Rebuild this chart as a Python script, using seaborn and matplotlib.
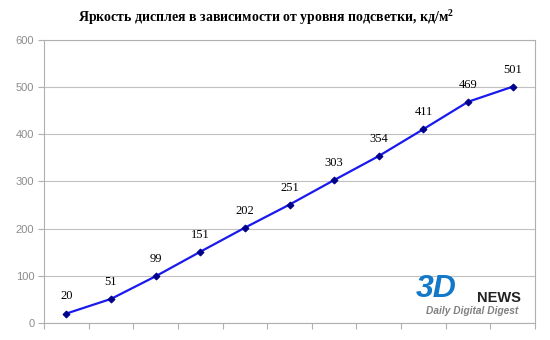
import matplotlib
matplotlib.use("Agg")
import matplotlib.pyplot as plt
import seaborn as sns
import pandas as pd
import numpy as np

levels = list(range(1, 12))
brightness = [20, 51, 99, 151, 202, 251, 303, 354, 411, 469, 501]
yticks = [0, 100, 200, 300, 400, 500, 600]
title = "Яркость дисплея в зависимости от уровня подсветки, кд/м$^{\\mathregular{2}}$"

sns.set_theme(style="white")
plt.rcParams['font.family'] = ['Liberation Serif', 'DejaVu Serif']
plt.rcParams['mathtext.fontset'] = 'custom'
plt.rcParams['mathtext.rm'] = 'Liberation Serif'

df = pd.DataFrame({"pos": np.arange(len(levels)), "val": brightness})

fig = plt.figure(figsize=(5.5, 3.4), dpi=100)
ax = fig.add_axes([44/550, 17/340, (535-44)/550, (323-40)/340])

sns.lineplot(data=df, x="pos", y="val", ax=ax, color="#1a1aee", linewidth=1.6,
             marker="D", markersize=3.5, markerfacecolor="#00008b", markeredgecolor="#00008b")

ax.set_xlim(-0.5, len(levels) - 0.5)
ax.set_ylim(0, 600)
ax.set_yticks(yticks)
ax.set_yticklabels([str(t) for t in yticks], fontsize=8, color="#8c8c8c",
                   family=['Liberation Sans', 'DejaVu Sans'])
ax.set_xticks(np.arange(-0.5, len(levels)))
ax.set_xticklabels([])
ax.tick_params(axis='x', length=4, color="#b0b0b0", width=0.8, direction='out', bottom=True)
ax.tick_params(axis='y', length=4, color="#b0b0b0", width=0.8, direction='out', left=True, pad=3)
ax.grid(axis='y', color="#c0c0c0", linewidth=0.8)
ax.set_axisbelow(True)
for s in ax.spines.values():
    s.set_color("#b0b0b0")
    s.set_linewidth(0.8)
ax.set_xlabel("")
ax.set_ylabel("")

for i, v in enumerate(brightness):
    ax.annotate(str(v), (i, v), xytext=(0, 8), textcoords="offset points",
                ha="center", va="bottom", fontsize=9, color="black")

fig.text(266/550, 1 - 17/340, title, ha="center", va="center", fontsize=10,
         fontweight="bold", color="black")

# logo
fig.text(416/550, 1 - 289/340, "3D", fontsize=23, fontweight="bold", style="italic",
         color="#1478c8", family=['Liberation Sans', 'DejaVu Sans'], ha="left", va="center")
fig.text(499/550, 1 - 298/340, "NEWS", fontsize=10.5, fontweight="bold", color="#222222",
         family=['Liberation Sans', 'DejaVu Sans'], ha="center", va="center")
fig.text(472/550, 1 - 311/340, "Daily Digital Digest", fontsize=7.3, style="italic",
         fontweight="bold", color="#808080", family=['Liberation Sans', 'DejaVu Sans'],
         ha="center", va="center")

fig.savefig("out.png", dpi=100)
